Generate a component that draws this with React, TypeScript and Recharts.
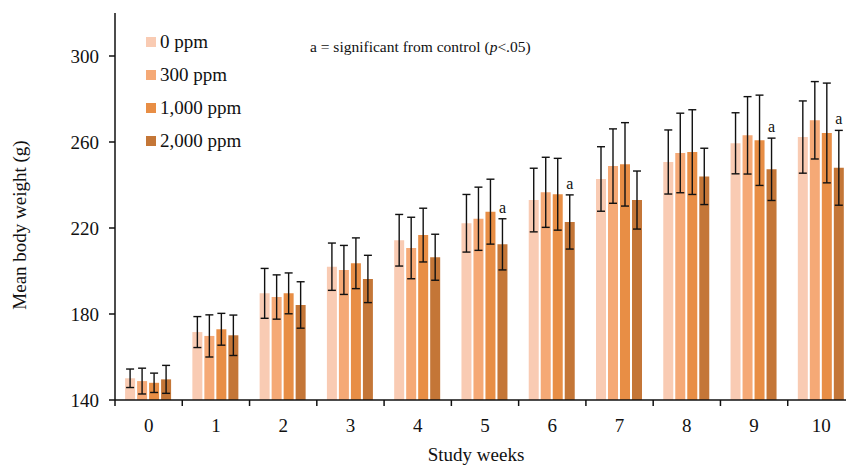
import { Bar, BarChart, ErrorBar, LabelList, XAxis, YAxis } from 'recharts';

// Study week categories
const weeks = ['0', '1', '2', '3', '4', '5', '6', '7', '8', '9', '10'];

// Mean body weight (g) per dose group
const ppm0 = [150.1, 171.6, 189.6, 202, 214.3, 222.2, 233, 242.8, 250.7, 259.4, 262.3];
const ppm300 = [148.8, 169.8, 187.9, 200.5, 210.7, 224.3, 236.6, 248.8, 254.9, 263.1, 270.1];
const ppm1000 = [148, 172.9, 189.6, 203.6, 216.7, 227.6, 235.7, 249.6, 255.3, 260.8, 264.2];
const ppm2000 = [149.6, 170.1, 184.2, 196.3, 206.4, 212.4, 222.8, 233, 244, 247.3, 248];

// Standard deviations
const err0 = [4.3, 7.2, 11.6, 11, 12, 13.4, 14.8, 15, 14.9, 14.2, 16.8];
const err300 = [6, 9.8, 10.3, 11.4, 14.3, 14.7, 16.3, 17.3, 18.5, 18, 18];
const err1000 = [4.5, 7.4, 9.5, 11.8, 12.5, 15.1, 16.7, 19.4, 19.7, 21, 23.2];
const err2000 = [6.5, 9.4, 10.8, 11, 10.7, 11.9, 12.6, 13.5, 13.1, 14.5, 17.4];

// significance marks for the 2,000 ppm group
const sig2000 = ['', '', '', '', '', 'a', 'a', '', '', 'a', 'a'];

const yTicks = [140, 180, 220, 260, 300];

const FONT = '"Liberation Serif", "Times New Roman", serif';
const INK = '#111';

const data = weeks.map((w, i) => ({
    week: w,
    p0: ppm0[i],
    p300: ppm300[i],
    p1000: ppm1000[i],
    p2000: ppm2000[i],
    e0: err0[i],
    e300: err300[i],
    e1000: err1000[i],
    e2000: err2000[i],
    sig: sig2000[i]
}));

const series = [
    { key: 'p0', err: 'e0', name: '0 ppm', color: '#F9CBB3' },
    { key: 'p300', err: 'e300', name: '300 ppm', color: '#F5A976' },
    { key: 'p1000', err: 'e1000', name: '1,000 ppm', color: '#E88E45' },
    { key: 'p2000', err: 'e2000', name: '2,000 ppm', color: '#C47637' }
];

const BAND = 740 / weeks.length;

function WeekTick(props: any) {
    const { x, y, payload, index } = props;
    const left = x - BAND / 2;
    return (
        <g>
            <line x1={left} y1={400} x2={left} y2={406} stroke={INK} strokeWidth={1.5} />
            {index === weeks.length - 1 && (
                <line x1={x + BAND / 2} y1={400} x2={x + BAND / 2} y2={406} stroke={INK} strokeWidth={1.5} />
            )}
            <text x={x} y={y + 24} textAnchor="middle" fontFamily={FONT} fontSize={19} fill={INK}>
                {payload.value}
            </text>
        </g>
    );
}

function SigLabel(props: any) {
    const { x, y, width, height, value, index } = props;
    if (!value) return null;
    const pxPerUnit = height / (ppm2000[index] - 140);
    const errTop = y - err2000[index] * pxPerUnit;
    return (
        <text x={x + width / 2} y={errTop - 6} textAnchor="middle" fontFamily={FONT} fontSize={16} fill={INK}>
            {value}
        </text>
    );
}

export default function App() {
    return (
        <div
            style={{
                position: 'fixed',
                left: 0,
                top: 0,
                width: 846,
                height: 466,
                overflow: 'hidden',
                background: '#fff'
            }}
        >
            <BarChart
                width={880}
                height={466}
                data={data}
                margin={{ top: 13, right: 25, left: 0, bottom: 0 }}
                barCategoryGap="15%"
                barGap={2}
            >
                <XAxis
                    dataKey="week"
                    height={66}
                    axisLine={{ stroke: INK, strokeWidth: 1.5 }}
                    tickLine={false}
                    tick={<WeekTick />}
                    interval={0}
                />
                <YAxis
                    width={115}
                    domain={[140, 320]}
                    ticks={yTicks}
                    allowDataOverflow
                    axisLine={{ stroke: INK, strokeWidth: 1.5 }}
                    tickLine={{ stroke: INK, strokeWidth: 1.5 }}
                    tickSize={6}
                    tickMargin={10}
                    tick={{ fontFamily: FONT, fontSize: 19, fill: INK }}
                />
                {series.map((s) => (
                    <Bar key={s.key} dataKey={s.key} name={s.name} fill={s.color} isAnimationActive={false}>
                        <ErrorBar dataKey={s.err} width={4} stroke={INK} strokeWidth={1.4} direction="y" />
                        {s.key === 'p2000' && <LabelList dataKey="sig" content={<SigLabel />} />}
                    </Bar>
                ))}
            </BarChart>
            <div
                style={{
                    position: 'absolute',
                    left: 146,
                    top: 25,
                    fontFamily: FONT,
                    fontSize: 19,
                    color: INK
                }}
            >
                {series.map((s) => (
                    <div key={s.key} style={{ display: 'flex', alignItems: 'center', height: 33 }}>
                        <span
                            style={{
                                width: 10,
                                height: 10,
                                background: s.color,
                                marginRight: 4,
                                display: 'inline-block'
                            }}
                        />
                        {s.name}
                    </div>
                ))}
            </div>
            <div
                style={{
                    position: 'absolute',
                    left: 310,
                    top: 38,
                    fontFamily: FONT,
                    fontSize: 15.5,
                    color: INK,
                    whiteSpace: 'nowrap'
                }}
            >
                a = significant from control (<i>p</i>&lt;.05)
            </div>
            <div
                style={{
                    position: 'absolute',
                    left: 20,
                    top: 225,
                    transform: 'translate(-50%, -50%) rotate(-90deg)',
                    fontFamily: FONT,
                    fontSize: 19,
                    color: INK,
                    whiteSpace: 'nowrap'
                }}
            >
                Mean body weight (g)
            </div>
            <div
                style={{
                    position: 'absolute',
                    left: 476,
                    top: 444,
                    transform: 'translateX(-50%)',
                    fontFamily: FONT,
                    fontSize: 19,
                    color: INK,
                    whiteSpace: 'nowrap'
                }}
            >
                Study weeks
            </div>
        </div>
    );
}
